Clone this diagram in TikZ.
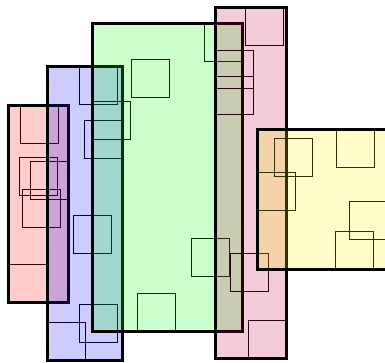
\documentclass[tikz,border=0pt]{standalone}
\usetikzlibrary{fit}
\tikzset{
  sq/.style={draw=black, line width=0.8pt, anchor=north west, minimum width=38pt, minimum height=38pt, inner sep=0pt, outer sep=0pt},
  grp/.style={draw=black, line width=3pt, inner sep=0pt, fill=#1, fill opacity=0.2, draw opacity=1},
}
\begin{document}
\begin{tikzpicture}[x=1pt,y=-1pt]
\useasboundingbox (0,0) rectangle (385,362);
\clip (0,0) rectangle (385,362);
\fill[white] (0,0) rectangle (385,362);
% red group
\node[sq] (r1) at (20,105) {};
\node[sq] (r2) at (19,157) {};
\node[sq] (r3) at (30,161) {};
\node[sq] (r4) at (22,189) {};
\node[sq] (r5) at (8,264) {};
\node[grp=red, fit=(r1)(r2)(r3)(r4)(r5)] (R) {};
% blue group
\node[sq] (b1) at (79,66) {};
\node[sq] (b2) at (84,120) {};
\node[sq] (b3) at (73,215) {};
\node[sq] (b4) at (79,304) {};
\node[sq] (b5) at (47,322) {};
\node[grp=blue, fit=(b1)(b2)(b3)(b4)(b5)] (B) {};
% green group
\node[sq] (g1) at (131,59) {};
\node[sq] (g2) at (92,101) {};
\node[sq] (g3) at (204,23) {};
\node[sq] (g4) at (191,238) {};
\node[sq] (g5) at (137,293) {};
\node[grp=green, fit=(g1)(g2)(g3)(g4)(g5)] (G) {};
% pink group
\node[sq] (p1) at (245,7) {};
\node[sq] (p2) at (215,50) {};
\node[sq] (p3) at (215,76) {};
\node[sq] (p4) at (230,253) {};
\node[sq] (p5) at (248,320) {};
\node[grp=purple, fit=(p1)(p2)(p3)(p4)(p5)] (P) {};
% yellow group
\node[sq] (y1) at (274,138) {};
\node[sq] (y2) at (257,172) {};
\node[sq] (y3) at (336,129) {};
\node[sq] (y4) at (349,201) {};
\node[sq] (y5) at (335,231) {};
\node[grp=yellow, fit=(y1)(y2)(y3)(y4)(y5)] (Y) {};
\end{tikzpicture}
\end{document}
